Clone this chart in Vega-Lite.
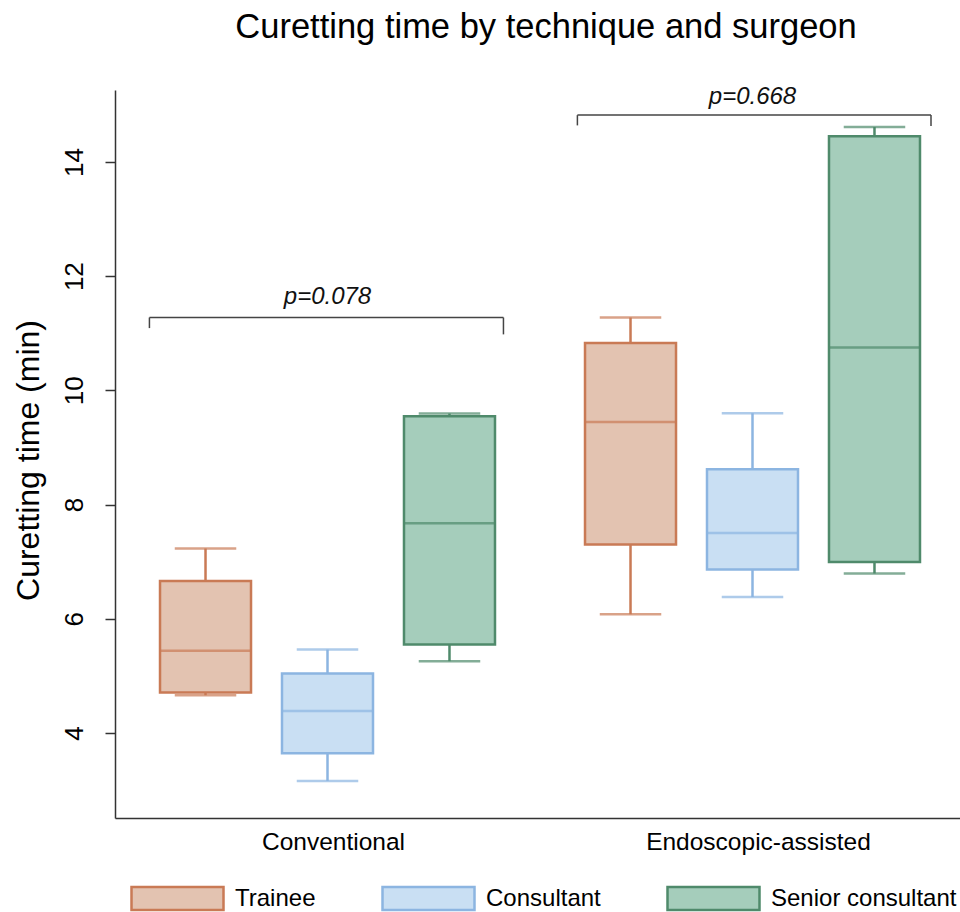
{
  "$schema": "https://vega.github.io/schema/vega-lite/v6.json",
  "width": 850,
  "height": 728,
  "autosize": {"type": "none"},
  "padding": {"left": 115, "top": 90, "right": 0, "bottom": 94},
  "title": {
    "text": "Curetting time by technique and surgeon",
    "fontSize": 34.5,
    "fontWeight": "normal",
    "color": "#000000",
    "anchor": "middle",
    "frame": "group",
    "dx": 6,
    "offset": 40
  },
  "config": {
    "view": {"stroke": null},
    "font": "Liberation Sans",
    "axis": {"domainColor": "#333333", "domainWidth": 1.5, "tickColor": "#333333", "tickWidth": 1.5, "labelColor": "#000000", "titleColor": "#000000", "grid": false},
    "legend": {"symbolOpacity": 1, "labelLimit": 400}
  },
  "datasets": {
    "boxes": [
      {"technique": "Conventional", "surgeon": "Trainee", "lower": 4.66, "q1": 4.71, "median": 5.44, "q3": 6.66, "upper": 7.23},
      {"technique": "Conventional", "surgeon": "Consultant", "lower": 3.16, "q1": 3.645, "median": 4.385, "q3": 5.04, "upper": 5.46},
      {"technique": "Conventional", "surgeon": "Senior consultant", "lower": 5.256, "q1": 5.548, "median": 7.67, "q3": 9.546, "upper": 9.594},
      {"technique": "Endoscopic-assisted", "surgeon": "Trainee", "lower": 6.08, "q1": 7.3, "median": 9.447, "q3": 10.83, "upper": 11.275},
      {"technique": "Endoscopic-assisted", "surgeon": "Consultant", "lower": 6.38, "q1": 6.86, "median": 7.5, "q3": 8.62, "upper": 9.6},
      {"technique": "Endoscopic-assisted", "surgeon": "Senior consultant", "lower": 6.79, "q1": 6.995, "median": 10.75, "q3": 14.45, "upper": 14.61}
    ],
    "brackets": [
      {"technique": "Conventional", "x1": 0.581, "x2": 1.414, "xm": 1.0, "ytop": 11.275, "yleft": 11.09, "yright": 10.98, "ylabel": 11.51, "label": "p=0.078"},
      {"technique": "Endoscopic-assisted", "x1": 1.588, "x2": 2.42, "xm": 2.0, "ytop": 14.82, "yleft": 14.64, "yright": 14.63, "ylabel": 15.01, "label": "p=0.668"}
    ]
  },
  "layer": [
    {
      "data": {"name": "boxes"},
      "encoding": {
        "x": {
          "field": "technique", "type": "nominal",
          "scale": {"paddingInner": 0, "paddingOuter": 0},
          "axis": {"title": null, "ticks": false, "labelAngle": 0, "labelFontSize": 24.5, "labelPadding": 12, "labelLimit": 400, "labelOffset": 6}
        },
        "xOffset": {
          "field": "surgeon", "type": "nominal",
          "sort": ["Trainee", "Consultant", "Senior consultant"],
          "scale": {"paddingInner": 0.254, "paddingOuter": 0.369}
        },
        "stroke": {"field": "surgeon", "type": "nominal",
          "scale": {"domain": ["Trainee", "Consultant", "Senior consultant"], "range": ["#c97a55", "#8cb5e1", "#4f8a6b"]},
          "legend": {"orient": "none", "legendX": 15, "legendY": 761, "direction": "horizontal", "title": null,
            "symbolType": "M-1,-0.25H1V0.25H-1Z", "symbolSize": 8464, "symbolStrokeWidth": 2.5, "symbolOpacity": 1,
            "labelFontSize": 24, "labelColor": "#000000", "labelOffset": 10, "labelLimit": 400, "columnPadding": 61, "padding": 0}}
      },
      "layer": [
        {
          "mark": {"type": "rule", "strokeWidth": 2.5},
          "encoding": {
            "y": {"field": "lower", "type": "quantitative",
              "scale": {"domain": [2.51, 15.26], "nice": false, "zero": false},
              "axis": {"title": "Curetting time (min)", "titleFontSize": 32, "titleFontWeight": "normal", "titlePadding": 16, "titleY": 370,
                "values": [4, 6, 8, 10, 12, 14], "format": "d", "labelAngle": -90, "labelFontSize": 26, "labelPadding": 18, "tickSize": 10}},
            "y2": {"field": "upper"}
          }
        },
        {
          "mark": {"type": "tick", "size": 60, "thickness": 1, "filled": false, "strokeWidth": 1.5},
          "encoding": {
            "y": {"field": "lower", "type": "quantitative"}
          }
        },
        {
          "mark": {"type": "tick", "size": 60, "thickness": 1, "filled": false, "strokeWidth": 1.5},
          "encoding": {
            "y": {"field": "upper", "type": "quantitative"}
          }
        },
        {
          "mark": {"type": "bar", "strokeWidth": 2.5, "opacity": 1},
          "encoding": {
            "y": {"field": "q1", "type": "quantitative"},
            "y2": {"field": "q3"},
            "fill": {"field": "surgeon", "type": "nominal",
              "scale": {"domain": ["Trainee", "Consultant", "Senior consultant"], "range": ["#e3c3b1", "#c9dff3", "#a5cdbb"]},
              "legend": {"orient": "none", "legendX": 15, "legendY": 761, "direction": "horizontal", "title": null,
                "symbolType": "M-1,-0.25H1V0.25H-1Z", "symbolSize": 8464, "symbolStrokeWidth": 2.5, "symbolOpacity": 1,
                "labelFontSize": 24, "labelColor": "#000000", "labelOffset": 10, "labelLimit": 400, "columnPadding": 61, "padding": 0}}
          }
        },
        {
          "mark": {"type": "tick", "size": 89, "thickness": 1, "filled": false, "strokeWidth": 1.5},
          "encoding": {
            "y": {"field": "median", "type": "quantitative"}
          }
        }
      ]
    },
    {
      "data": {"name": "brackets"},
      "encoding": {
        "y": {"field": "ytop", "type": "quantitative", "scale": {"domain": [2.51, 15.26], "nice": false, "zero": false}}
      },
      "layer": [
        {
          "mark": {"type": "rule", "color": "#444444", "strokeWidth": 1.5},
          "encoding": {
            "x": {"field": "x1", "type": "quantitative", "scale": {"domain": [0.5, 2.5], "nice": false, "zero": false}, "axis": null},
            "x2": {"field": "x2"}
          }
        },
        {
          "mark": {"type": "rule", "color": "#444444", "strokeWidth": 1.5},
          "encoding": {
            "x": {"field": "x1", "type": "quantitative", "axis": null},
            "y2": {"field": "yleft"}
          }
        },
        {
          "mark": {"type": "rule", "color": "#444444", "strokeWidth": 1.5},
          "encoding": {
            "x": {"field": "x2", "type": "quantitative", "axis": null},
            "y2": {"field": "yright"}
          }
        },
        {
          "mark": {"type": "text", "fontSize": 24, "fontStyle": "italic", "align": "center", "baseline": "alphabetic", "color": "#111111"},
          "encoding": {
            "x": {"field": "xm", "type": "quantitative", "axis": null},
            "y": {"field": "ylabel", "type": "quantitative"},
            "text": {"field": "label"}
          }
        }
      ]
    }
  ],
  "resolve": {"scale": {"x": "independent"}}
}
